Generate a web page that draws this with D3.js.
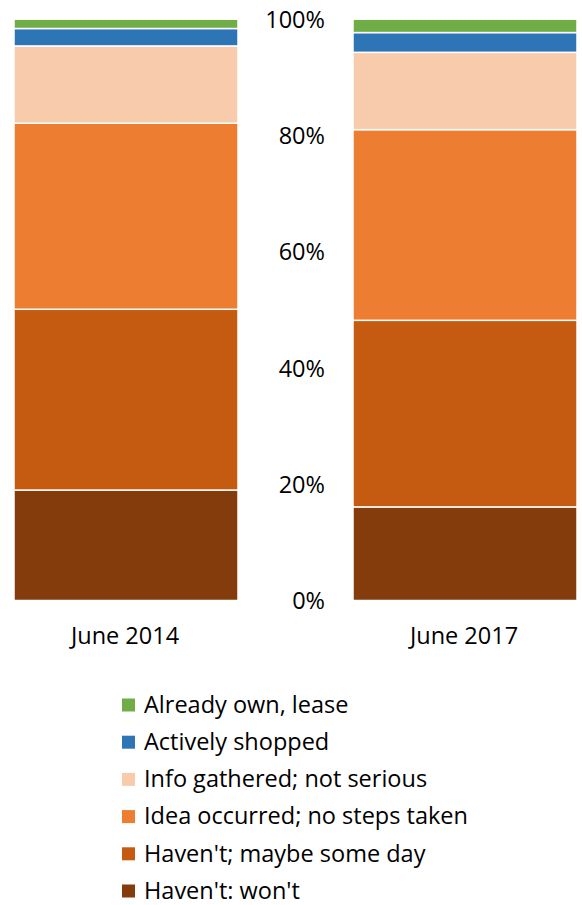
<!DOCTYPE html>
<html>
<head>
<meta charset="utf-8">
<script src="https://cdn.jsdelivr.net/npm/d3@7"></script>
<style>
  body { margin: 0; background: #fff; }
  text { font-family: "Open Sans", sans-serif; fill: #000; }
</style>
</head>
<body>
<div id="chart"></div>
<script>
// stacked shares (percent), bottom to top
const periods = ["June 2014", "June 2017"];
const series = ["Haven't: won't", "Haven't; maybe some day", "Idea occurred; no steps taken",
                "Info gathered; not serious", "Actively shopped", "Already own, lease"];
const wont = [19.0, 16.1];
const maybe = [31.1, 32.1];
const idea = [32.0, 32.8];
const info = [13.3, 13.3];
const active = [3.0, 3.4];
const already = [1.6, 2.3];
const yTicks = [0, 20, 40, 60, 80, 100];
const colors = ["#843C0C", "#C55A11", "#ED7D31", "#F8CBAD", "#2E75B6", "#70AD47"];

const width = 582, height = 905;
const fontSize = "23.5px";
const svg = d3.select("#chart").append("svg")
    .attr("width", width).attr("height", height);

const rows = periods.map((p, i) => {
  const r = { period: p };
  [wont, maybe, idea, info, active, already].forEach((arr, k) => r[series[k]] = arr[i]);
  return r;
});
const stacked = d3.stack().keys(series)(rows);

const y = d3.scaleLinear().domain([0, 100]).range([600.5, 19.2]);

// two bars with the axis labels sitting in between
const barX = d3.scaleOrdinal().domain(periods).range([14, 353]);
const barW = 224;

svg.append("g").selectAll("g")
  .data(stacked)
  .join("g")
    .attr("fill", (d, i) => colors[i])
  .selectAll("rect")
  .data(d => d)
  .join("rect")
    .attr("x", d => barX(d.data.period))
    .attr("width", barW)
    .attr("y", d => y(d[1]))
    .attr("height", d => y(d[0]) - y(d[1]))
    .attr("stroke", "#fff")
    .attr("stroke-width", 1.5);

// y labels
const yAxis = d3.axisLeft(y).tickValues(yTicks).tickFormat(d => d + "%").tickSize(0);
const ya = svg.append("g").attr("transform", "translate(325,0)").call(yAxis);
ya.select(".domain").remove();
ya.selectAll("text")
    .attr("x", 0)
    .attr("dy", "0.35em")
    .style("font-size", fontSize)
    .style("font-family", "'Open Sans', sans-serif")
    .attr("fill", "#000");

// category labels
svg.append("g").selectAll("text")
  .data(periods)
  .join("text")
    .attr("x", d => barX(d) + barW / 2 - 1)
    .attr("y", 644)
    .attr("text-anchor", "middle")
    .style("font-size", fontSize)
    .text(d => d);

// legend, top entry is the top of the stack
const legendItems = series.slice().reverse();
const legendColors = colors.slice().reverse();
const lg = svg.append("g").attr("transform", "translate(122,0)");
const item = lg.selectAll("g")
  .data(legendItems)
  .join("g")
    .attr("transform", (d, i) => `translate(0,${705 + i * 37.2})`);
item.append("rect")
    .attr("x", 0).attr("y", -6.5)
    .attr("width", 13).attr("height", 13)
    .attr("fill", (d, i) => legendColors[i]);
item.append("text")
    .attr("x", 22)
    .attr("dy", "0.33em")
    .style("font-size", fontSize)
    .text(d => d);
</script>
</body>
</html>
